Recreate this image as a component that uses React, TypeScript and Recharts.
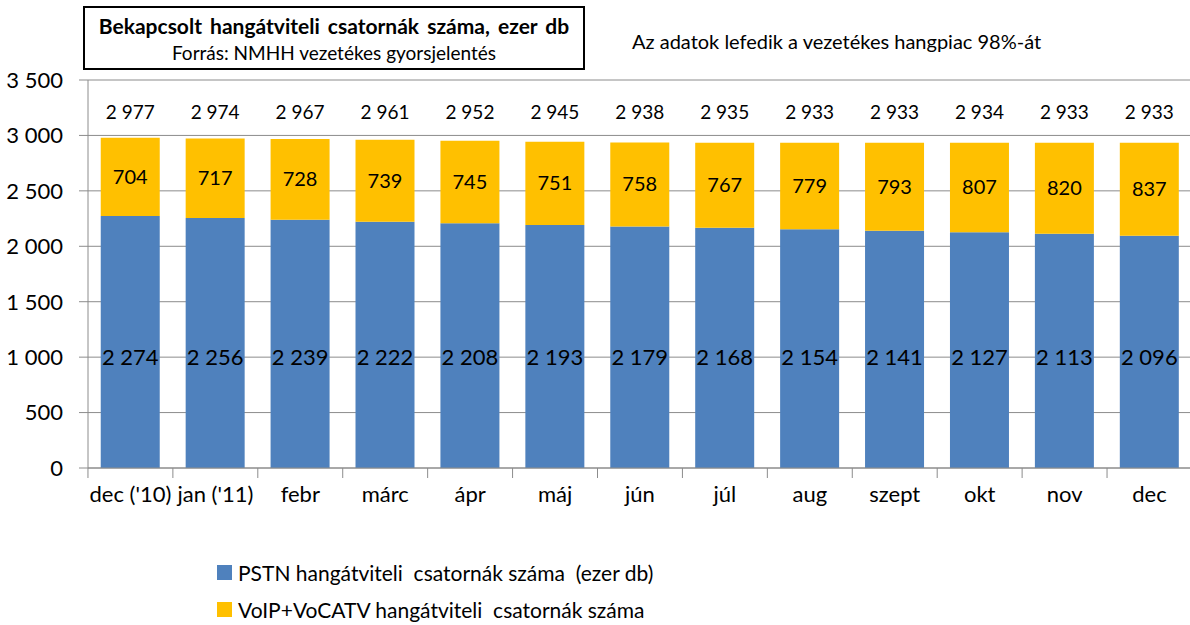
import { BarChart, Bar, XAxis, YAxis, CartesianGrid, LabelList } from 'recharts'

const months = ['dec (\'10)', 'jan (\'11)', 'febr', 'márc', 'ápr', 'máj', 'jún', 'júl', 'aug', 'szept', 'okt', 'nov', 'dec']
const pstn = [2274, 2256, 2239, 2222, 2208, 2193, 2179, 2168, 2154, 2141, 2127, 2113, 2096]
const voip = [704, 717, 728, 739, 745, 751, 758, 767, 779, 793, 807, 820, 837]
const totals = [2977, 2974, 2967, 2961, 2952, 2945, 2938, 2935, 2933, 2933, 2934, 2933, 2933]
const yTicks = [0, 500, 1000, 1500, 2000, 2500, 3000, 3500]

const PSTN_NAME = 'PSTN hangátviteli  csatornák száma  (ezer db)'
const VOIP_NAME = 'VoIP+VoCATV hangátviteli  csatornák száma'

const data = months.map((m, i) => ({ month: m, pstn: pstn[i], voip: voip[i], total: totals[i] }))

const FONT = 'Lato, "Open Sans", sans-serif'
const BLUE = '#4F81BD'
const YELLOW = '#FFC000'
const GRID = '#8c8c8c'

const fmt = (v: number) => String(v).replace(/\B(?=(\d{3})+(?!\d))/g, ' ')

function XTick(props: any) {
  const { x, y, payload } = props
  const half = 85 / 2
  return (
    <g>
      <line x1={x - half} x2={x - half} y1={y - 8} y2={y + 2} stroke={GRID} />
      <text x={x} y={y + 26} textAnchor="middle" fontSize={22} fill="#000" fontFamily={FONT}>
        {payload.value}
      </text>
    </g>
  )
}

function PstnLabel(props: any) {
  const { x, y, width, height, value } = props
  return (
    <text x={x + width / 2} y={y + height - 103} textAnchor="middle" fontSize={22} fill="#000" fontFamily={FONT}>
      {fmt(value)}
    </text>
  )
}

function VoipLabel(props: any) {
  const { x, y, width, height, value } = props
  return (
    <text x={x + width / 2} y={y + height / 2 + 7} textAnchor="middle" fontSize={20} fill="#000" fontFamily={FONT}>
      {value}
    </text>
  )
}

function TotalLabel(props: any) {
  const { x, width, index } = props
  return (
    <text x={x + width / 2} y={119} textAnchor="middle" fontSize={19} fill="#000" fontFamily={FONT}>
      {fmt(totals[index])}
    </text>
  )
}

function LegendBox() {
  const items = [
    { name: PSTN_NAME, color: BLUE },
    { name: VOIP_NAME, color: YELLOW },
  ]
  return (
    <div style={{ position: 'absolute', left: 217, top: 554, fontFamily: FONT, fontSize: 21, color: '#000' }}>
      {items.map((it) => (
        <div key={it.name} style={{ display: 'flex', alignItems: 'center', height: 37, whiteSpace: 'pre' }}>
          <span style={{ width: 15, height: 15, background: it.color, marginRight: 6, display: 'inline-block' }} />
          {it.name}
        </div>
      ))}
    </div>
  )
}

export default function App() {
  return (
    <div style={{ position: 'absolute', left: 0, top: 0, width: 1190, height: 625, background: '#fff', fontFamily: FONT }}>
      <BarChart
        width={1192}
        height={625}
        data={data}
        margin={{ top: 80, right: 0, left: 0, bottom: 117 }}
        barCategoryGap="15%"
      >
        <CartesianGrid vertical={false} stroke={GRID} />
        <XAxis
          dataKey="month"
          tick={<XTick />}
          tickLine={false}
          axisLine={{ stroke: GRID }}
          interval={0}
          height={40}
        />
        <YAxis
          domain={[0, 3500]}
          ticks={yTicks}
          width={88}
          tickFormatter={fmt}
          tick={{ fontSize: 22, fill: '#000', fontFamily: FONT }}
          tickLine={{ stroke: GRID }}
          tickSize={9}
          tickMargin={16}
          axisLine={{ stroke: GRID }}
          interval={0}
        />
        <Bar dataKey="pstn" name={PSTN_NAME} stackId="a" fill={BLUE} isAnimationActive={false}>
          <LabelList dataKey="pstn" content={<PstnLabel />} />
        </Bar>
        <Bar dataKey="voip" name={VOIP_NAME} stackId="a" fill={YELLOW} isAnimationActive={false}>
          <LabelList dataKey="voip" content={<VoipLabel />} />
          <LabelList dataKey="total" content={<TotalLabel />} />
        </Bar>
      </BarChart>
      <LegendBox />
      <div
        style={{
          position: 'absolute',
          left: 83,
          top: 6,
          width: 502,
          height: 64,
          border: '2px solid #000',
          textAlign: 'center',
          lineHeight: '27px',
          paddingTop: 4,
          boxSizing: 'border-box',
        }}
      >
        <div style={{ fontWeight: 700, fontSize: 21, wordSpacing: 3 }}>Bekapcsolt hangátviteli csatornák száma, ezer db</div>
        <div style={{ fontSize: 19 }}>Forrás: NMHH vezetékes gyorsjelentés</div>
      </div>
      <div style={{ position: 'absolute', left: 632, top: 29, fontSize: 20 }}>
        Az adatok lefedik a vezetékes hangpiac 98%-át
      </div>
    </div>
  )
}
